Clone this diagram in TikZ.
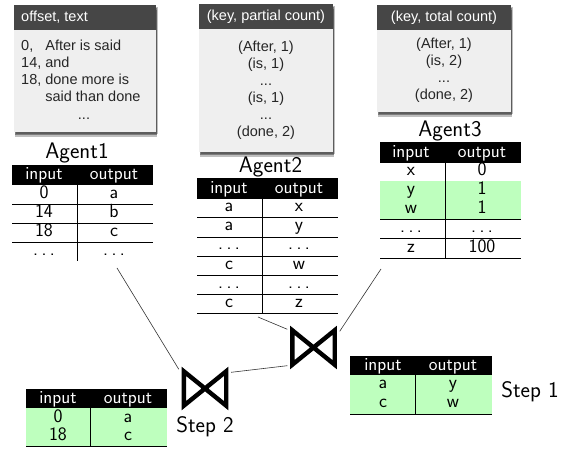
\documentclass[tikz,border=0pt]{standalone}
\usepackage{fontspec}
\newfontfamily\cardfont{Liberation Sans}
\usepackage{tikz}
\usetikzlibrary{shadows}
\definecolor{cardgray}{HTML}{EFEFEF}
\definecolor{headgray}{HTML}{464646}
\definecolor{hitgreen}{HTML}{BEFFBE}
\newcommand{\spdots}{.\hspace{3.5pt}.\hspace{3.5pt}.}
\tikzset{
  cardbody/.style={rectangle,fill=cardgray,inner sep=0pt,
    drop shadow={shadow xshift=1.5pt,shadow yshift=-2pt,opacity=.25,fill=black},
    drop shadow={shadow xshift=1pt,shadow yshift=-3.5pt,opacity=.35,fill=black},
    drop shadow={shadow xshift=.5pt,shadow yshift=-5pt,opacity=.25,fill=black}},
  cardhead/.style={rectangle,fill=headgray,inner sep=0pt,text=white,font=\cardfont\fontsize{14.5}{16}\selectfont},
  cardtext/.style={inner sep=0pt,align=center,text=black!85,font=\cardfont\fontsize{14.5}{16}\selectfont},
  headbar/.style={rectangle,fill=black,inner sep=0pt,minimum width=141pt,minimum height=20pt},
  headcell/.style={anchor=base,inner sep=0pt,text=white,font=\sffamily\fontsize{18.5}{20}\selectfont},
  cell/.style={anchor=base,inner sep=0pt,font=\sffamily\fontsize{19}{20}\selectfont},
  title/.style={anchor=base,inner sep=0pt,font=\sffamily\fontsize{22.5}{25}\selectfont},
  rule/.style={line width=.9pt},
  bowtie/.style={rectangle,inner sep=0pt,minimum width=42pt,minimum height=34pt},
  link/.style={line width=.6pt,black!80}
}
\begin{document}
\begin{tikzpicture}[x=1pt,y=-1pt]
  \useasboundingbox (0,0) rectangle (563,449);

% cards
  \node[cardbody,minimum width=142pt,minimum height=127pt] (card1) at (85,68.5) {};
  \node[cardhead,minimum width=142pt,minimum height=25pt] (head1) at (85,17.5) {};
  \node[cardhead,anchor=base west] (headtext1) at (21,22) {offset, text};
  \node[cardtext,anchor=north west,align=left] (text1) at (21,39) {%
    \begin{tabular}{@{}l@{\hspace{4pt}}l@{}}
      0, & After is said\\[1pt]
      14, & and\\[1pt]
      18, & done more is\\[1pt]
      & said than done
    \end{tabular}};
  \node[cardtext] (dots1) at (84,119) {...};

  \node[cardbody,minimum width=134pt,minimum height=148pt] (card2) at (266,78) {};
  \node[cardhead,minimum width=134pt,minimum height=25pt] (head2) at (266,16.5) {(key, partial count)};
  \node[cardtext] (text2) at (266,90.5) {%
    (After, 1)\\[1pt] (is, 1)\\[1pt] ...\\[1pt] (is, 1)\\[1pt] ...\\[1pt] (done, 2)};

  \node[cardbody,minimum width=134pt,minimum height=107pt] (card3) at (444,58.5) {};
  \node[cardhead,minimum width=134pt,minimum height=25pt] (head3) at (444,17.5) {(key, total count)};
  \node[cardtext] (text3) at (444,70.5) {%
    (After, 1)\\[1pt] (is, 2)\\[1pt] ...\\[1pt] (done, 2)};

% Agent1
  \node[title] (agent1) at (77,159) {Agent1};
  \node[headbar] (bar1) at (82.5,175) {};
  \node[headcell] (in1) at (44,180) {input};
  \node[headcell] (out1) at (114,180) {output};
  \foreach \y/\a/\b [count=\i] in {199/0/a,218/14/b,237/18/c,256/\spdots/\spdots} {
    \node[cell] (a1\i) at (44,\y) {\a};
    \node[cell] (b1\i) at (114,\y) {\b};
  }
  \draw[rule] (77,185) -- (77,261);
  \foreach \y in {204,223,242} \draw[rule] (12,\y) -- (153,\y);

% Agent2
  \node[title] (agent2) at (270.5,173) {Agent2};
  \node[headbar,minimum height=21pt] (bar2) at (267.5,188.5) {};
  \node[headcell] (in2) at (229,193.5) {input};
  \node[headcell] (out2) at (299,193.5) {output};
  \foreach \y/\a/\b [count=\i] in {212/a/x,231/a/y,250/\spdots/\spdots,270/c/w,289/\spdots/\spdots,308/c/z} {
    \node[cell] (a2\i) at (229,\y) {\a};
    \node[cell] (b2\i) at (299,\y) {\b};
  }
  \draw[rule] (262,199) -- (262,313);
  \foreach \y in {217,237,256,275,294,313} \draw[rule] (197,\y) -- (338,\y);

% Agent3
  \node[title] (agent3) at (450,137) {Agent3};
  \fill[hitgreen] (380,181) rectangle (521,219);
  \node[headbar,minimum height=21pt] (bar3) at (450.5,152.5) {};
  \node[headcell] (in3) at (411,157.5) {input};
  \node[headcell] (out3) at (482,157.5) {output};
  \foreach \y/\a/\b [count=\i] in {176/x/0,195/y/1,214/w/1,233/\spdots/\spdots,253/z/100} {
    \node[cell] (a3\i) at (411,\y) {\a};
    \node[cell] (b3\i) at (482,\y) {\b};
  }
  \draw[rule] (445,163) -- (445,258);
  \foreach \y in {219,238,258} \draw[rule] (380,\y) -- (521,\y);

% Step 1
  \fill[hitgreen] (350,375) rectangle (492,414);
  \node[headbar,minimum width=142pt,minimum height=19pt] (bar4) at (421,365.5) {};
  \node[headcell] (in4) at (383,370.5) {input};
  \node[headcell] (out4) at (453,370.5) {output};
  \foreach \y/\a/\b [count=\i] in {389/a/y,408/c/w} {
    \node[cell] (a4\i) at (383,\y) {\a};
    \node[cell] (b4\i) at (453,\y) {\b};
  }
  \draw[rule] (415,375) -- (415,414);
  \draw[rule] (350,414) -- (492,414);
  \node[title] (step1) at (530,398) {Step 1};

% Step 2
  \fill[hitgreen] (26,408) rectangle (167,446);
  \node[headbar,minimum height=19pt] (bar5) at (96.5,398.5) {};
  \node[headcell] (in5) at (58,403.5) {input};
  \node[headcell] (out5) at (128,403.5) {output};
  \foreach \y/\a/\b [count=\i] in {422/0/a,441/18/c} {
    \node[cell] (a5\i) at (58,\y) {\a};
    \node[cell] (b5\i) at (128,\y) {\b};
  }
  \draw[rule] (90.5,408) -- (90.5,446);
  \draw[rule] (26,446.5) -- (167,446.5);
  \node[title] (step2) at (205,432) {Step 2};

% joins
  \node[bowtie] (join1) at (313.5,347.5) {};
  \node[bowtie] (join2) at (205,388.5) {};
  \foreach \j in {join1,join2}
    \draw[line width=4.4pt,miter limit=10] (\j.south west) -- (\j.north east) -- (\j.south east) -- (\j.north west) -- cycle;

  \coordinate (from1) at (117,268);
  \coordinate (from2) at (258,317);
  \coordinate (from3) at (381,269);
  \draw[link] (from1) -- ([shift={(-5,-2)}]join2.north west);
  \draw[link] (from2) -- ([shift={(-5,-1)}]join1.north west);
  \draw[link] (from3) -- ([shift={(5,1)}]join1.north east);
  \draw[link] ([shift={(5,1)}]join2.north east) -- ([shift={(-5,1)}]join1.south west);
\end{tikzpicture}
\end{document}
